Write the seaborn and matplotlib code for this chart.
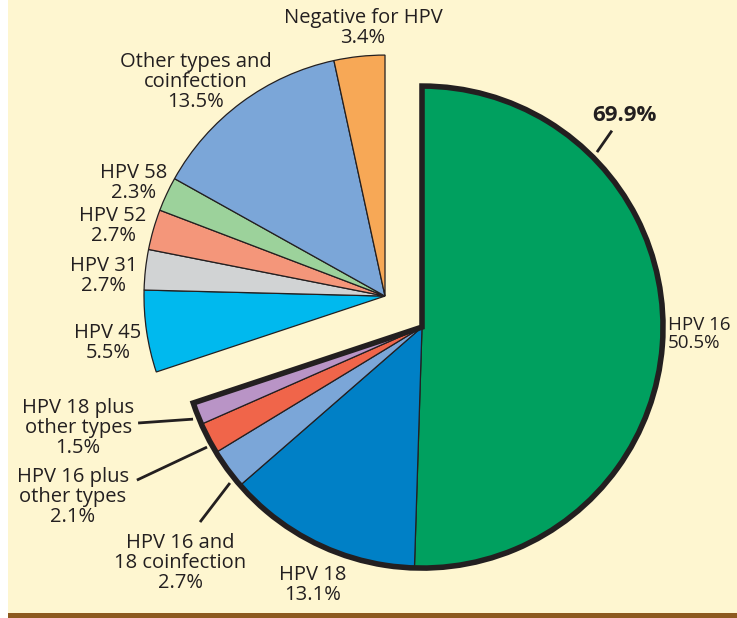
import matplotlib.pyplot as plt
import seaborn as sns
from matplotlib.patches import Rectangle

sns.set_theme(style="white")
plt.rcParams["font.family"] = ["Open Sans", "DejaVu Sans"]

# HPV types found, clockwise from 12 o'clock
labels = [
    "HPV 16", "HPV 18", "HPV 16 and\n18 coinfection", "HPV 16 plus\nother types",
    "HPV 18 plus\nother types", "HPV 45", "HPV 31", "HPV 52", "HPV 58",
    "Other types and\ncoinfection", "Negative for HPV",
]
shares = [50.5, 13.1, 2.7, 2.1, 1.5, 5.5, 2.7, 2.7, 2.3, 13.5, 3.4]
colors = [
    "#00a05f", "#0080c6", "#7ba6d8", "#f0654a", "#b994c6", "#00b9ee",
    "#d1d3d4", "#f4967a", "#9cd29b", "#7ba6d8", "#f7a856",
]
n_main = 5  # first five slices form the highlighted group
group_total = sum(shares[:n_main])

bg = "#fef6d0"
edge = "#231f20"

fig = plt.figure(figsize=(7.37, 6.18), dpi=100, facecolor=bg)
ax = fig.add_axes([0, 0, 1, 1])
ax.set_facecolor(bg)

# main group sits at the origin, the rest is pulled out to the upper left
off = (-0.1535, 0.1286)
for center, keep in [((0, 0), range(n_main)), (off, range(n_main, len(shares)))]:
    wedges, _ = ax.pie(
        shares, colors=colors, startangle=90, counterclock=False,
        center=center, radius=1.0, frame=True,
        wedgeprops=dict(edgecolor=edge, linewidth=0.9),
    )
    for i, w in enumerate(wedges):
        w.set_visible(i in keep)

# thick outline around the whole group
outline, _ = ax.pie(
    [group_total, 100 - group_total], startangle=90, counterclock=False,
    center=(0, 0), radius=1.0, frame=True,
    wedgeprops=dict(edgecolor=edge, linewidth=4, fill=False, joinstyle="miter"),
)
outline[1].set_visible(False)

ax.set_xlim(-1.751, 1.307)
ax.set_ylim(-1.207, 1.357)
ax.set_aspect("equal")
ax.axis("off")

txt = dict(fontsize=14.5, color="#231f20", ha="center", va="center", linespacing=0.98)

label_pos = [
    (1.020, -0.029), (-0.452, -1.071), (-1.004, -0.979), (-1.448, -0.705),
    (-1.427, -0.419), (-1.303, -0.066), (-1.320, 0.212), (-1.282, 0.419),
    (-1.195, 0.598), (-0.938, 1.017), (-0.245, 1.241),
]
for lab, val, (x, y) in zip(labels, shares, label_pos):
    if lab == "HPV 16":
        # right edge of the page is tight, keep it just inside
        ax.text(x, y, f"{lab}\n{val}%", **{**txt, "ha": "left", "fontsize": 13.5})
    else:
        ax.text(x, y, f"{lab}\n{val}%", **txt)

# leader lines for the thin slices
leaders = [
    ((-1.178, -0.398), (-0.950, -0.382)),
    ((-1.183, -0.635), (-0.892, -0.498)),
    ((-0.921, -0.809), (-0.797, -0.647)),
    ((0.788, 0.815), (0.726, 0.726)),
]
for (x0, y0), (x1, y1) in leaders:
    ax.plot([x0, x1], [y0, y1], color=edge, lw=2, solid_capstyle="butt")

ax.text(0.842, 0.878, f"{group_total:.1f}%", fontsize=16, fontweight="bold",
        color="#231f20", ha="center", va="center")

# page decorations: white margin on the left, brown rule at the bottom
fig.patches.append(Rectangle((0, 0), 8 / 737, 1, transform=fig.transFigure,
                             facecolor="white", edgecolor="none", zorder=5))
fig.patches.append(Rectangle((8 / 737, 0), 1, 5 / 618, transform=fig.transFigure,
                             facecolor="#8d5a1f", edgecolor="none", zorder=5))

fig.savefig("out.png", dpi=100, facecolor=bg)
